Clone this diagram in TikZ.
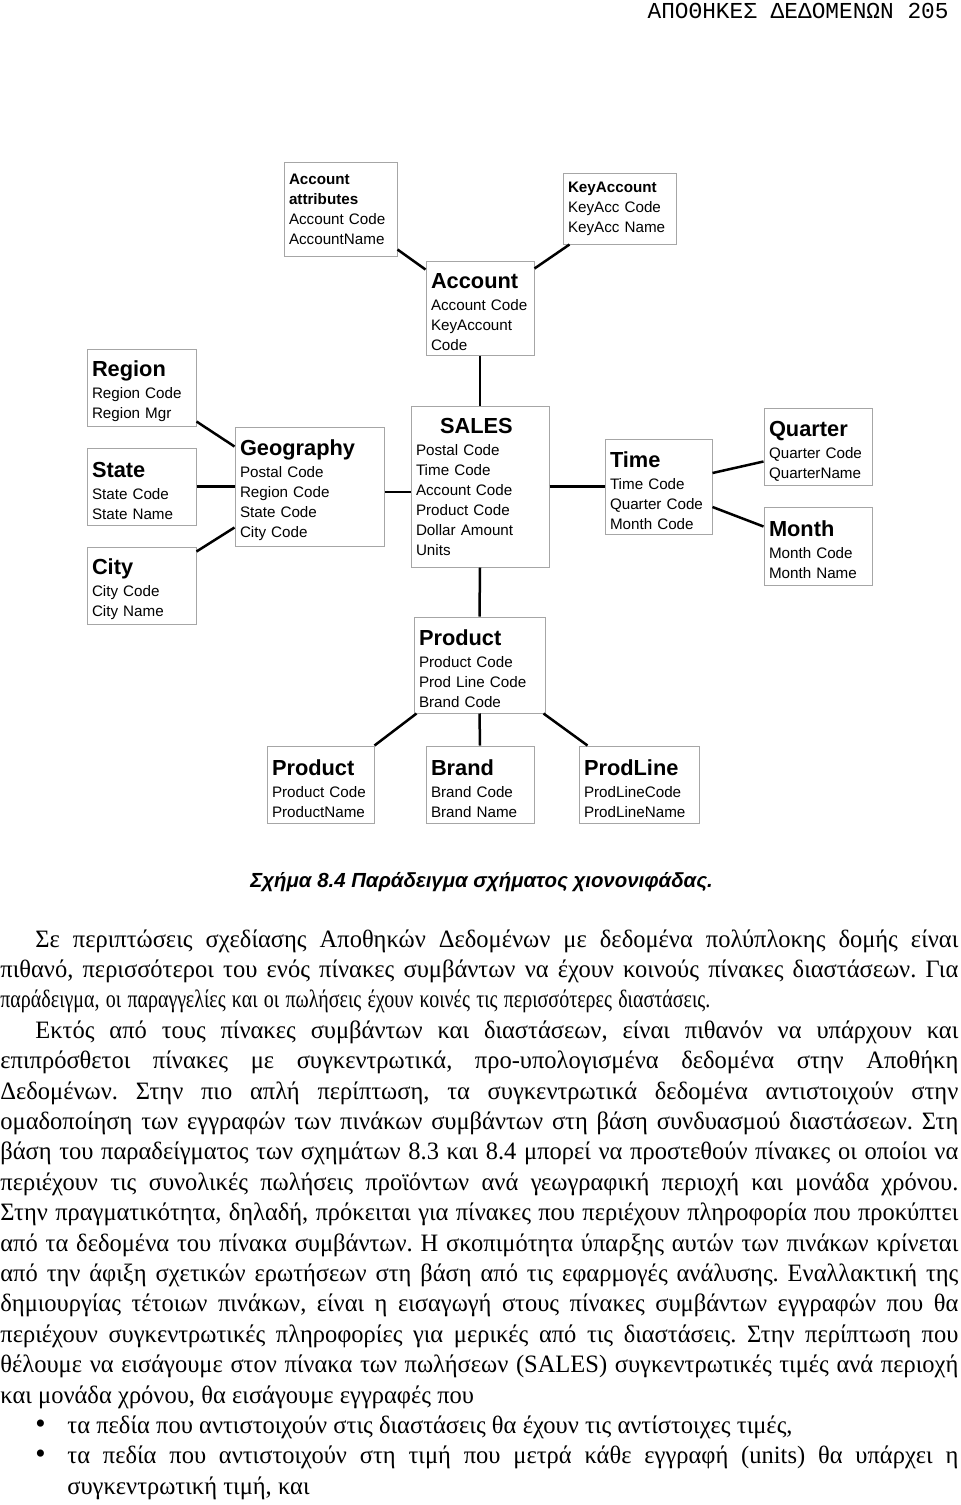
\documentclass[tikz,border=0pt]{standalone}
\usepackage{fontspec}
\setmainfont{Liberation Serif}
\newfontfamily\arialf{Liberation Sans}
\newfontfamily\courf{Liberation Mono}
\newfontfamily\bodyf{Liberation Serif}[FakeStretch=0.98]
\newfontfamily\bodyc{Liberation Serif}[FakeStretch=0.80]
\setlength\parindent{0pt}
\frenchspacing

% one justified line of the page text
\newcommand\jline[1]{\hbox to479pt{\spaceskip=0.25em plus 2em minus 0.12em #1}\par}
% bold title of a table box
\newcommand\ttl[2][12pt]{{\rule{0pt}{#1}\fontsize{10.9}{12}\selectfont\bfseries #2}\\[1pt]}
% bullet of the list
\newcommand\blt{\hbox to33.5pt{\hspace*{20pt}\makebox[0pt]{\fontsize{15}{15}\selectfont •}\hfil}}

\begin{document}
\begin{tikzpicture}[x=0.5pt,y=-0.5pt]
    % Node styles
    \tikzset{
      tbl/.style={draw=black!35,line width=0.5pt,inner xsep=2.5pt,inner ysep=0pt,
        align=left,font=\arialf\fontsize{7.6}{10}\selectfont},
      link/.style={line width=1.25pt},
      body/.style={inner sep=0pt,text width=479pt,anchor=base west,
        font=\bodyf\fontsize{12.5}{15.2}\selectfont}
    }
    \useasboundingbox (0,0) rectangle (960,1505);

    % --- Page header ---
    \node[anchor=base east,inner sep=0pt,font=\courf\fontsize{11.4}{12}\selectfont] (head) at (949,18)
      {ΑΠΟΘΗΚΕΣ ΔΕΔΟΜΕΝΩΝ 205};

    % --- Account tables ---
    \node[tbl,text width=51.5pt,minimum height=47pt] (attr) at (340.5,209)
      {\textbf{Account}\\ \textbf{attributes}\\ Account Code\\ AccountName};
    \node[tbl,text width=51.5pt,minimum height=35.5pt] (keyacc) at (619.5,208.5)
      {\textbf{KeyAccount}\\ KeyAcc Code\\ KeyAcc Name};
    \node[tbl,text width=49pt,minimum height=47pt] (acct) at (480,308)
      {\ttl{Account}Account Code\\ KeyAccount\\ Code};

    % --- Fact table ---
    \node[tbl,text width=64pt,minimum height=80.5pt] (sales) at (480,486.5)
      {\ttl[8pt]{\hspace*{12pt}SALES}Postal Code\\ Time Code\\ Account Code\\ Product Code\\ Dollar Amount\\ Units};

    % --- Geography dimension ---
    \node[tbl,text width=49.5pt,minimum height=38.5pt] (region) at (141.5,387.5)
      {\ttl{Region}Region Code\\ Region Mgr};
    \node[tbl,text width=49.5pt,minimum height=38.5pt] (state) at (141.5,486.5)
      {\ttl{State}State Code\\ State Name};
    \node[tbl,text width=49.5pt,minimum height=38.5pt] (city) at (141.5,585.5)
      {\ttl{City}City Code\\ City Name};
    \node[tbl,text width=69.5pt,minimum height=59.5pt] (geo) at (309.5,486.5)
      {\ttl{Geography}Postal Code\\ Region Code\\ State Code\\ City Code};

    % --- Time dimension ---
    \node[tbl,text width=48.5pt,minimum height=47.5pt] (time) at (658.5,486.5)
      {\ttl{Time}Time Code\\ Quarter Code\\ Month Code};
    \node[tbl,text width=49pt,minimum height=38.5pt] (quarter) at (818,446.5)
      {\ttl{Quarter}Quarter Code\\ QuarterName};
    \node[tbl,text width=49pt,minimum height=39pt] (month) at (818,546)
      {\ttl{Month}Month Code\\ Month Name};

    % --- Product dimension ---
    \node[tbl,text width=60.5pt,minimum height=48pt] (prod) at (479.5,665)
      {\ttl{Product}Product Code\\ Prod Line Code\\ Brand Code};
    \node[tbl,text width=48.5pt,minimum height=38.5pt] (prodb) at (320.5,784.5)
      {\ttl{Product}Product Code\\ ProductName};
    \node[tbl,text width=49pt,minimum height=38.5pt] (brand) at (480,784.5)
      {\ttl{Brand}Brand Code\\ Brand Name};
    \node[tbl,text width=55pt,minimum height=38.5pt] (pline) at (639,784.5)
      {\ttl{ProdLine}ProdLineCode\\ ProdLineName};

    % --- Connectors ---
    \draw[link] ([yshift=3.5pt]attr.south east) -- ([yshift=-4.5pt]acct.north west);
    \draw[link] ([xshift=3.5pt]keyacc.south west) -- ([yshift=-4pt]acct.north east);
    \draw[link] (acct.south) -- (sales.north);
    \draw[link] ([yshift=2.5pt]region.south east) -- ([yshift=-10pt]geo.north west);
    \draw[link] (state) -- (geo);
    \draw[link] ([yshift=-2.5pt]city.north east) -- ([yshift=9.5pt]geo.south west);
    \draw[link] ([yshift=-2.75pt]geo.east) -- ([yshift=-2.75pt]sales.west);
    \draw[link] (sales) -- (time);
    \draw[link] ([yshift=6.75pt]time.east) -- ([yshift=12pt]quarter.south west);
    \draw[link] ([yshift=-10.25pt]time.east) -- ([yshift=-10pt]month.north west);
    \draw[link] (sales.south) -- (prod.north);
    \draw[link] ([xshift=1.5pt]prod.south west) -- (prodb.north east);
    \draw[link] (prod.south) -- (brand.north);
    \draw[link] ([xshift=-1pt]prod.south east) -- ([xshift=4.5pt]pline.north west);

    % --- Caption ---
    \node[anchor=west,inner sep=0pt,font=\arialf\fontsize{10.2}{12}\selectfont\bfseries\itshape] (cap) at (250,882)
      {Σχήμα 8.4 Παράδειγμα σχήματος χιονονιφάδας.};

    % --- Page text ---
    \node[body] (txt) at (0,947) {%
      \jline{\hspace*{17.5pt}Σε περιπτώσεις σχεδίασης Αποθηκών Δεδομένων με δεδομένα πολύπλοκης δομής είναι}
      \jline{πιθανό, περισσότεροι του ενός πίνακες συμβάντων να έχουν κοινούς πίνακες διαστάσεων. Για}
      \jline{\bodyc παράδειγμα, οι παραγγελίες και οι πωλήσεις έχουν κοινές τις περισσότερες διαστάσεις.\hfil}
      \jline{\hspace*{17.5pt}Εκτός από τους πίνακες συμβάντων και διαστάσεων, είναι πιθανόν να υπάρχουν και}
      \jline{επιπρόσθετοι πίνακες με συγκεντρωτικά, προ-υπολογισμένα δεδομένα στην Αποθήκη}
      \jline{Δεδομένων. Στην πιο απλή περίπτωση, τα συγκεντρωτικά δεδομένα αντιστοιχούν στην}
      \jline{ομαδοποίηση των εγγραφών των πινάκων συμβάντων στη βάση συνδυασμού διαστάσεων. Στη}
      \jline{βάση του παραδείγματος των σχημάτων 8.3 και 8.4 μπορεί να προστεθούν πίνακες οι οποίοι να}
      \jline{περιέχουν τις συνολικές πωλήσεις προϊόντων ανά γεωγραφική περιοχή και μονάδα χρόνου.}
      \jline{Στην πραγματικότητα, δηλαδή, πρόκειται για πίνακες που περιέχουν πληροφορία που προκύπτει}
      \jline{από τα δεδομένα του πίνακα συμβάντων. Η σκοπιμότητα ύπαρξης αυτών των πινάκων κρίνεται}
      \jline{από την άφιξη σχετικών ερωτήσεων στη βάση από τις εφαρμογές ανάλυσης. Εναλλακτική της}
      \jline{δημιουργίας τέτοιων πινάκων, είναι η εισαγωγή στους πίνακες συμβάντων εγγραφών που θα}
      \jline{περιέχουν συγκεντρωτικές πληροφορίες για μερικές από τις διαστάσεις. Στην περίπτωση που}
      \jline{θέλουμε να εισάγουμε στον πίνακα των πωλήσεων (SALES) συγκεντρωτικές τιμές ανά περιοχή}
      \jline{και μονάδα χρόνου, θα εισάγουμε εγγραφές που\hfil}
      \jline{\blt τα πεδία που αντιστοιχούν στις διαστάσεις θα έχουν τις αντίστοιχες τιμές,\hfil}
      \jline{\blt τα πεδία που αντιστοιχούν στη τιμή που μετρά κάθε εγγραφή (units) θα υπάρχει η}
      \jline{\hspace*{33.5pt}συγκεντρωτική τιμή, και\hfil}%
    };

  \end{tikzpicture}
\end{document}
